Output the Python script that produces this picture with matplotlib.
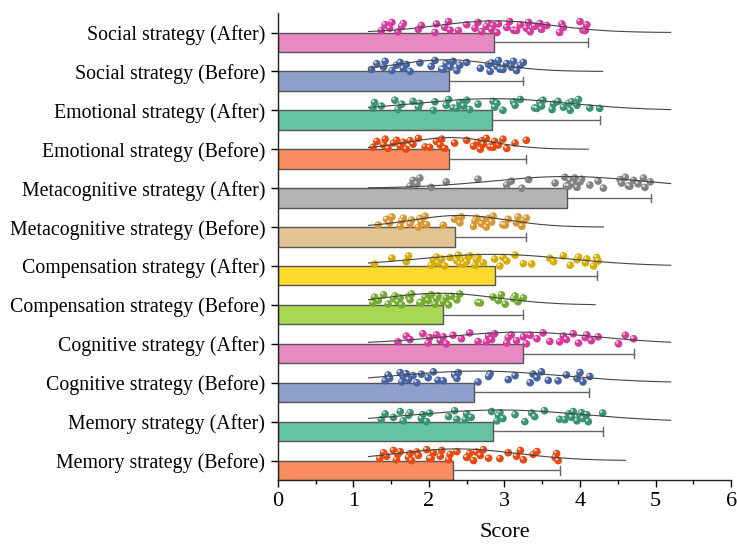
import numpy as np
import matplotlib
matplotlib.use("Agg")
import matplotlib.pyplot as plt
from matplotlib import transforms

plt.rcParams['font.family'] = ['Liberation Serif', 'DejaVu Serif']

# rows from bottom to top
labels = ["Memory strategy (Before)", "Memory strategy (After)",
          "Cognitive strategy (Before)", "Cognitive strategy (After)",
          "Compensation strategy (Before)", "Compensation strategy (After)",
          "Metacognitive strategy (Before)", "Metacognitive strategy (After)",
          "Emotional strategy (Before)", "Emotional strategy (After)",
          "Social strategy (Before)", "Social strategy (After)"]

means = [2.32, 2.85, 2.60, 3.24, 2.18, 2.88, 2.34, 3.83, 2.26, 2.84, 2.26, 2.86]
err_end = [3.73, 4.30, 4.12, 4.72, 3.25, 4.23, 3.28, 4.94, 3.28, 4.26, 3.24, 4.10]

# fitted curve: centre, spread, right end (all start at 1.2)
curve_mu = [2.37, 2.94, 2.65, 3.21, 2.15, 2.85, 2.41, 3.83, 2.28, 2.85, 2.23, 2.88]
curve_sd = [0.80, 1.10, 1.10, 1.00, 0.75, 1.00, 0.62, 1.00, 0.56, 1.00, 0.65, 0.76]
curve_end = [4.60, 5.20, 5.20, 5.20, 4.20, 5.20, 4.31, 5.20, 4.11, 5.20, 4.30, 5.20]

pts = [
    [1.35, 1.40, 1.44, 1.53, 1.57, 1.59, 1.62, 1.73, 1.75, 1.77, 1.84, 1.86, 1.97, 2.01,
     2.03, 2.06, 2.15, 2.17, 2.26, 2.28, 2.37, 2.50, 2.54, 2.59, 2.63, 2.68, 2.72, 2.79,
     2.94, 3.05, 3.16, 3.21, 3.25, 3.38, 3.43, 3.67, 3.69, 3.71],
    [1.37, 1.42, 1.53, 1.62, 1.66, 1.73, 1.75, 1.90, 1.92, 1.97, 2.01, 2.26, 2.34, 2.37,
     2.48, 2.50, 2.56, 2.83, 2.90, 2.92, 2.94, 2.98, 3.14, 3.27, 3.36, 3.40, 3.53, 3.73,
     3.80, 3.85, 3.89, 3.91, 3.96, 4.00, 4.02, 4.04, 4.09, 4.11, 4.30],
    [1.42, 1.46, 1.48, 1.62, 1.64, 1.66, 1.70, 1.73, 1.79, 1.84, 1.90, 1.99, 2.06, 2.12,
     2.19, 2.34, 2.37, 2.39, 2.65, 2.79, 2.81, 3.05, 3.14, 3.34, 3.38, 3.43, 3.49, 3.58,
     3.71, 3.82, 3.96, 4.00, 4.04, 4.13],
    [1.59, 1.70, 1.75, 1.92, 1.99, 2.01, 2.10, 2.15, 2.19, 2.23, 2.32, 2.43, 2.54, 2.65,
     2.76, 2.79, 2.83, 2.87, 3.03, 3.05, 3.09, 3.16, 3.25, 3.29, 3.34, 3.43, 3.51, 3.60,
     3.73, 3.78, 3.82, 3.91, 3.98, 4.07, 4.09, 4.15, 4.24, 4.51, 4.60, 4.71],
    [1.26, 1.28, 1.33, 1.40, 1.46, 1.53, 1.55, 1.59, 1.62, 1.64, 1.73, 1.75, 1.77, 1.88,
     1.90, 1.95, 1.99, 2.03, 2.08, 2.10, 2.12, 2.19, 2.23, 2.26, 2.30, 2.37, 2.41, 2.65,
     2.68, 2.85, 2.92, 2.96, 3.01, 3.12, 3.14, 3.18, 3.25],
    [1.28, 1.51, 1.70, 1.73, 2.03, 2.06, 2.10, 2.12, 2.17, 2.21, 2.28, 2.37, 2.39, 2.41,
     2.46, 2.48, 2.50, 2.54, 2.61, 2.63, 2.65, 2.72, 2.87, 2.94, 2.98, 3.03, 3.14, 3.25,
     3.36, 3.60, 3.65, 3.78, 3.87, 3.96, 3.98, 4.07, 4.09, 4.18, 4.22, 4.24],
    [1.33, 1.44, 1.48, 1.51, 1.62, 1.64, 1.66, 1.75, 1.77, 1.86, 1.88, 1.90, 1.95, 1.97,
     2.19, 2.34, 2.41, 2.43, 2.59, 2.61, 2.63, 2.70, 2.72, 2.76, 2.79, 2.83, 2.85, 2.98,
     3.01, 3.05, 3.16, 3.18, 3.23, 3.25, 3.29],
    [1.75, 1.79, 1.84, 1.88, 2.03, 2.23, 2.65, 3.03, 3.09, 3.23, 3.32, 3.67, 3.80, 3.82,
     3.85, 3.87, 3.91, 3.93, 3.96, 4.00, 4.02, 4.13, 4.24, 4.31, 4.53, 4.55, 4.60, 4.64,
     4.66, 4.71, 4.77, 4.84, 4.86, 4.93],
    [1.26, 1.31, 1.40, 1.42, 1.46, 1.53, 1.57, 1.62, 1.66, 1.70, 1.75, 1.79, 1.86, 1.95,
     2.01, 2.10, 2.15, 2.17, 2.21, 2.34, 2.50, 2.59, 2.65, 2.68, 2.70, 2.72, 2.76, 2.81,
     2.85, 2.87, 2.92, 2.98, 3.03, 3.14, 3.29],
    [1.26, 1.28, 1.37, 1.55, 1.59, 1.64, 1.79, 1.86, 1.88, 2.06, 2.08, 2.23, 2.26, 2.32,
     2.37, 2.41, 2.46, 2.50, 2.54, 2.65, 2.85, 2.87, 2.90, 2.98, 3.12, 3.14, 3.21, 3.40,
     3.43, 3.47, 3.49, 3.51, 3.63, 3.65, 3.71, 3.78, 3.85, 3.87, 3.89, 3.96, 3.98, 4.13, 4.26],
    [1.24, 1.31, 1.40, 1.42, 1.51, 1.57, 1.62, 1.66, 1.70, 1.75, 1.88, 2.03, 2.08, 2.17,
     2.19, 2.23, 2.28, 2.32, 2.37, 2.41, 2.50, 2.68, 2.79, 2.81, 2.83, 2.90, 2.92, 2.94,
     2.98, 3.03, 3.09, 3.12, 3.16, 3.21, 3.25],
    [1.37, 1.42, 1.48, 1.51, 1.59, 1.64, 1.66, 1.86, 1.90, 2.08, 2.10, 2.21, 2.26, 2.28,
     2.39, 2.50, 2.61, 2.65, 2.70, 2.76, 2.79, 2.83, 2.85, 2.90, 2.92, 3.03, 3.07, 3.12,
     3.16, 3.21, 3.29, 3.32, 3.34, 3.40, 3.47, 3.49, 3.56, 3.73, 3.76, 3.78, 4.00, 4.04,
     4.07, 4.09],
]

bar_cols = ["#fc8d62", "#66c2a5", "#8da0cb", "#e78ac3",
            "#a6d854", "#ffd92f", "#e5c494", "#b3b3b3"]
dot_cols = ["#e8490f", "#3a9373", "#4863a3", "#d6399b",
            "#74ab2e", "#d6ac00", "#d9952f", "#828282"]

jit = [0.05, 0.20, 0.11, 0.26, 0.02, 0.16, 0.23, 0.08, 0.18, 0.00, 0.22, 0.13, 0.28, 0.06]

fig = plt.figure(figsize=(7.37, 5.44), dpi=100)
ax = fig.add_axes([0.377, 0.1176, 0.615, 0.8584])
hl = transforms.offset_copy(ax.transData, fig=fig, x=-1.0, y=1.0, units='points')

for i in range(len(labels)):
    c = i % 8
    ax.barh(i - 0.25, means[i], height=0.5, color=bar_cols[c], edgecolor="#555555",
            linewidth=1.0, zorder=2)
    ax.plot([means[i], err_end[i]], [i - 0.25, i - 0.25], color="#666666", lw=1.0, zorder=3)
    ax.plot([err_end[i], err_end[i]], [i - 0.36, i - 0.14], color="#666666", lw=1.0, zorder=3)

    xs = np.linspace(1.2, curve_end[i], 200)
    ys = i + 0.3 * np.exp(-0.5 * ((xs - curve_mu[i]) / curve_sd[i]) ** 2)
    ax.plot(xs, ys, color="#444444", lw=0.8, zorder=5)

    px = np.array(pts[i])
    py = i + np.array([jit[k % len(jit)] for k in range(len(px))])
    ax.scatter(px, py, s=30, color=dot_cols[c], edgecolor="none", zorder=4)
    ax.scatter(px, py, s=3.5, color="white", alpha=0.7, edgecolor="none", zorder=4,
               transform=hl)

ax.set_xlim(0, 6)
ax.set_ylim(-0.5, 11.5)
ax.set_yticks(range(len(labels)))
ax.set_yticklabels(labels, fontsize=14.3)
ax.set_xticks(range(7))
ax.set_xticks(np.arange(0.5, 6, 1.0), minor=True)
ax.tick_params(axis='x', labelsize=16, length=5, width=1)
ax.tick_params(axis='x', which='minor', length=3, width=1)
ax.tick_params(axis='y', length=5, width=1, pad=4)
ax.set_xlabel("Score", fontsize=16, labelpad=9)
for s in ["top", "right"]:
    ax.spines[s].set_visible(False)
for s in ["left", "bottom"]:
    ax.spines[s].set_linewidth(1.0)
    ax.spines[s].set_color("#222222")

fig.savefig("out.png", dpi=100)
